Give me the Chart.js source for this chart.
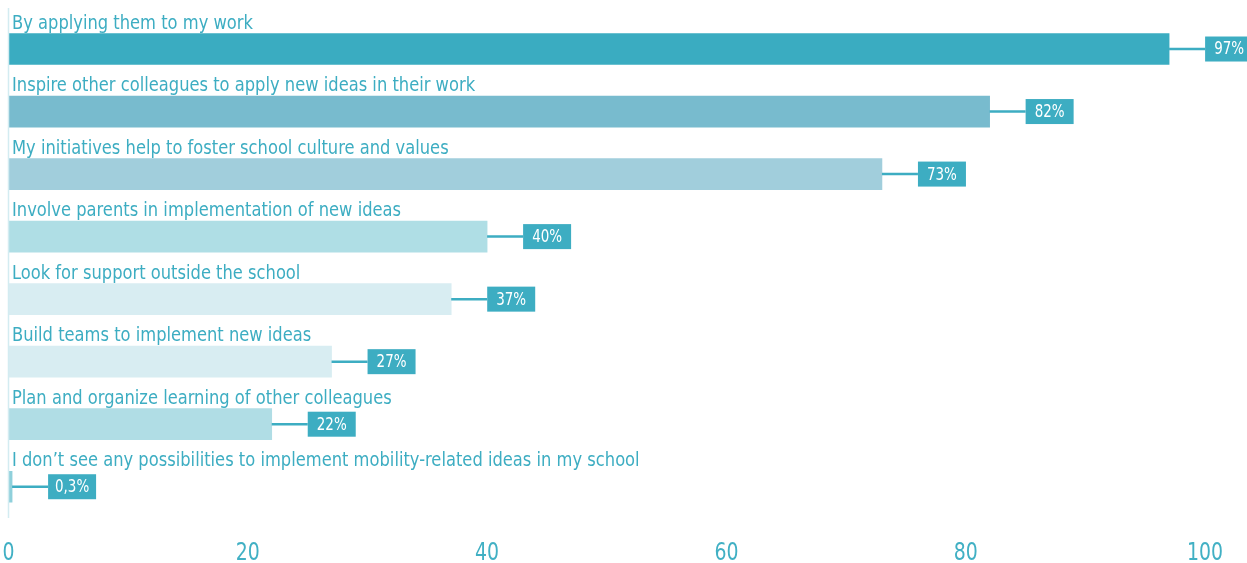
<!DOCTYPE html>
<html>
<head>
<meta charset="utf-8">
<script src="https://cdn.jsdelivr.net/npm/chart.js@4/dist/chart.umd.min.js"></script>
<style>
  html, body { margin: 0; padding: 0; background: #fff; }
  #wrap { width: 1247px; height: 563px; }
</style>
</head>
<body>
<div id="wrap"><canvas id="ideasChart"></canvas></div>
<script>
const categories = [
    'By applying them to my work',
    'Inspire other colleagues to apply new ideas in their work',
    'My initiatives help to foster school culture and values',
    'Involve parents in implementation of new ideas',
    'Look for support outside the school',
    'Build teams to implement new ideas',
    'Plan and organize learning of other colleagues',
    'I don\u2019t see any possibilities to implement mobility-related ideas in my school'
];
const values = [97, 82, 73, 40, 37, 27, 22, 0.3];
const valueLabels = ['97%', '82%', '73%', '40%', '37%', '27%', '22%', '0,3%'];
const xTicks = [0, 20, 40, 60, 80, 100];

const barColors = ['#3aacc1', '#78bbce', '#a1cedc', '#afdee5', '#d8edf2', '#d8edf2', '#b0dde5', '#8fd0db'];
const teal = '#3dadc2';
const FONT = "'DejaVu Sans Condensed', 'Roboto', sans-serif";

// condensed text: squeeze horizontally around the anchor point
function narrowText(ctx, text, x, y, squeeze) {
    ctx.save();
    ctx.translate(x, y);
    ctx.scale(squeeze, 1);
    ctx.fillText(text, 0, 0);
    ctx.restore();
}

// row captions, connector lines, value boxes, left axis line and x tick labels
const annotate = {
    id: 'annotate',
    afterDatasetsDraw(chart) {
        const ctx = chart.ctx;
        const meta = chart.getDatasetMeta(0);
        const area = chart.chartArea;
        const xScale = chart.scales.x;
        ctx.save();

        ctx.strokeStyle = '#d3ecf1';
        ctx.lineWidth = 1.5;
        ctx.beginPath();
        ctx.moveTo(area.left, 8);
        ctx.lineTo(area.left, area.bottom);
        ctx.stroke();

        meta.data.forEach((bar, i) => {
            const top = bar.y - bar.height / 2;
            ctx.fillStyle = teal;
            ctx.font = '19.5px ' + FONT;
            ctx.textAlign = 'left';
            ctx.textBaseline = 'alphabetic';
            narrowText(ctx, categories[i], area.left + 3.5, top - 5, 0.93);

            const boxX = bar.x + 36;
            ctx.strokeStyle = teal;
            ctx.lineWidth = 2.5;
            ctx.beginPath();
            ctx.moveTo(bar.x, bar.y);
            ctx.lineTo(boxX, bar.y);
            ctx.stroke();

            ctx.fillStyle = teal;
            ctx.fillRect(boxX, bar.y - 12.5, 48, 25);
            ctx.fillStyle = '#ffffff';
            ctx.font = '17px ' + FONT;
            ctx.textAlign = 'center';
            ctx.textBaseline = 'middle';
            narrowText(ctx, valueLabels[i], boxX + 24, bar.y + 1, 0.88);
        });

        ctx.fillStyle = '#41b0c4';
        ctx.font = '25px ' + FONT;
        ctx.textAlign = 'center';
        ctx.textBaseline = 'alphabetic';
        xTicks.forEach(v => {
            narrowText(ctx, String(v), xScale.getPixelForValue(v), 560, 0.84);
        });
        ctx.restore();
    }
};

new Chart(document.getElementById('ideasChart'), {
    type: 'bar',
    data: {
        labels: categories,
        datasets: [{
            data: values,
            backgroundColor: barColors,
            borderWidth: 0,
            barThickness: 31
        }]
    },
    options: {
        indexAxis: 'y',
        responsive: true,
        maintainAspectRatio: false,
        animation: false,
        layout: { padding: { left: 8.5, right: 42, top: 17.75, bottom: 0 } },
        plugins: {
            legend: { display: false },
            tooltip: { enabled: false }
        },
        scales: {
            x: {
                min: 0,
                max: 100,
                afterBuildTicks(scale) {
                    scale.ticks = xTicks.map(v => ({ value: v }));
                },
                afterFit(scale) {
                    scale.height = 45;
                    scale.paddingLeft = 0;
                    scale.paddingRight = 0;
                },
                grid: { display: false, drawTicks: false },
                border: { display: false },
                ticks: { display: false }
            },
            y: {
                display: false,
                offset: true
            }
        }
    },
    plugins: [annotate]
});
</script>
</body>
</html>
